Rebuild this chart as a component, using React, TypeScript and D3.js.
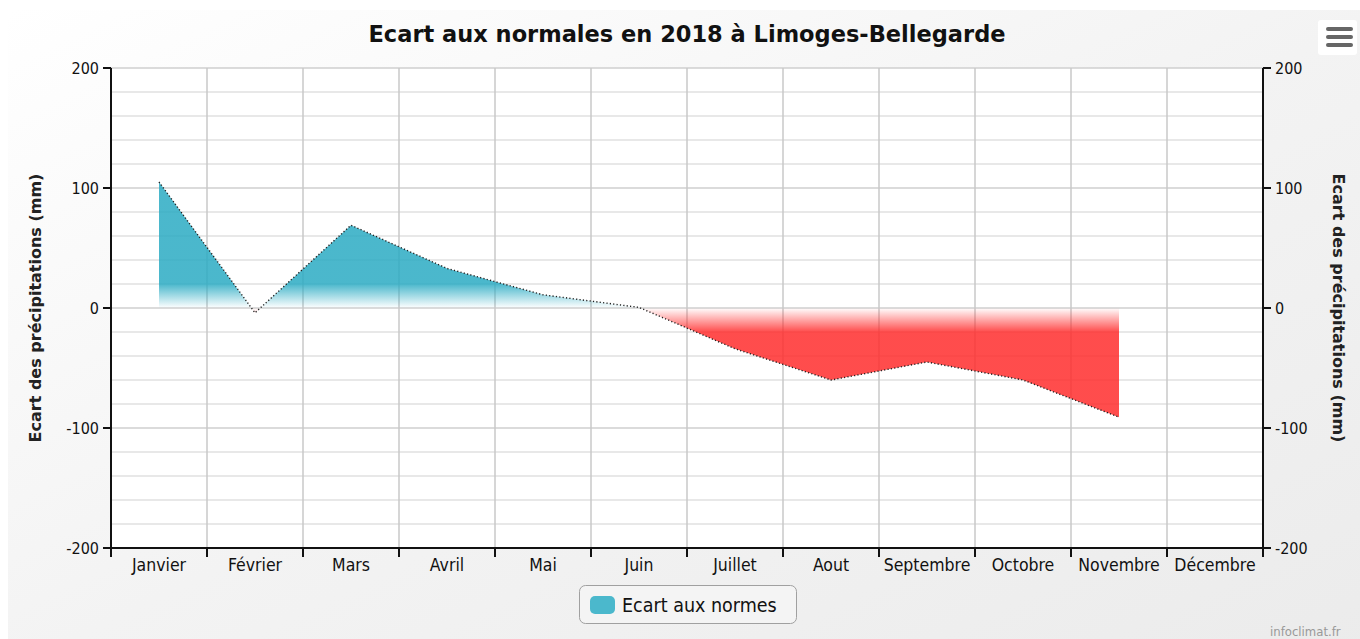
import * as d3 from 'd3';

// Écart mensuel aux normales de précipitations (mm), 2018, Limoges-Bellegarde
const months = ['Janvier', 'Février', 'Mars', 'Avril', 'Mai', 'Juin', 'Juillet', 'Aout', 'Septembre', 'Octobre', 'Novembre', 'Décembre'];
const ecart: (number | null)[] = [105, -4, 69, 33, 11, 0.5, -34, -60, -45, -60, -91, null];
const yTicks = [200, 100, 0, -100, -200];
const yGrid = d3.range(-200, 201, 20);

const W = 1360;
const H = 639;
const margin = { left: 111, right: 1263, top: 68, bottom: 548 };

const FONT = "'DejaVu Sans Condensed', 'DejaVu Sans', sans-serif";
const FONT_B = "'DejaVu Sans', sans-serif";

export default function App() {
  const x = d3.scaleBand<string>().domain(months).range([margin.left, margin.right]);
  const y = d3.scaleLinear().domain([-200, 200]).range([margin.bottom, margin.top]);
  const cx = (m: string) => (x(m) ?? 0) + x.bandwidth() / 2;

  const pts = months
    .map((m, i) => ({ m, v: ecart[i] }))
    .filter((d) => d.v !== null) as { m: string; v: number }[];

  const area = d3.area<{ m: string; v: number }>()
    .x((d) => cx(d.m))
    .y0(y(0))
    .y1((d) => y(d.v));
  const line = d3.line<{ m: string; v: number }>()
    .x((d) => cx(d.m))
    .y((d) => y(d.v));

  const y0 = y(0);
  const boundaries = months.map((m) => x(m) ?? 0).concat([margin.right]);

  return (
    <svg
      width={W}
      height={H}
      style={{ position: 'fixed', left: 0, top: 0, display: 'block' }}
    >
      <defs>
        <linearGradient id="bg" x1="0" y1="0" x2="1" y2="1">
          <stop offset="0" stopColor="#ffffff" />
          <stop offset="0.5" stopColor="#f3f3f3" />
          <stop offset="1" stopColor="#ebebeb" />
        </linearGradient>
        <linearGradient id="posFill" gradientUnits="userSpaceOnUse" x1="0" x2="0" y1={y(20)} y2={y0}>
          <stop offset="0" stopColor="rgb(43,171,195)" stopOpacity={0.85} />
          <stop offset="1" stopColor="rgb(43,171,195)" stopOpacity={0} />
        </linearGradient>
        <linearGradient id="negFill" gradientUnits="userSpaceOnUse" x1="0" x2="0" y1={y0} y2={y(-20)}>
          <stop offset="0" stopColor="rgb(255,45,45)" stopOpacity={0} />
          <stop offset="1" stopColor="rgb(255,45,45)" stopOpacity={0.85} />
        </linearGradient>
        <clipPath id="above">
          <rect x={margin.left} y={margin.top} width={margin.right - margin.left} height={y0 - margin.top} />
        </clipPath>
        <clipPath id="below">
          <rect x={margin.left} y={y0} width={margin.right - margin.left} height={margin.bottom - y0} />
        </clipPath>
      </defs>

      {/* fond */}
      <rect x={0} y={0} width={W} height={H} fill="#ffffff" />
      <rect x={8} y={10} width={W + 20} height={H + 20} rx={10} fill="url(#bg)" />

      {/* titre */}
      <text x={687} y={42} textAnchor="middle" fontFamily={FONT_B} fontWeight="bold" fontSize={22.5} fill="#111">
        Ecart aux normales en 2018 à Limoges-Bellegarde
      </text>

      {/* zone de tracé */}
      <rect x={margin.left} y={margin.top} width={margin.right - margin.left} height={margin.bottom - margin.top} fill="#ffffff" />

      {yGrid.map((v) => (
        <line key={'h' + v} x1={margin.left} x2={margin.right} y1={y(v)} y2={y(v)}
          stroke={v % 100 === 0 ? '#cfcfcf' : '#e0e0e0'} strokeWidth={1.5} />
      ))}
      {boundaries.map((bx, i) => (
        <line key={'v' + i} x1={bx} x2={bx} y1={margin.top} y2={margin.bottom} stroke="#c8c8c8" strokeWidth={1.5} />
      ))}

      {/* série */}
      <path d={area(pts) ?? ''} fill="url(#posFill)" clipPath="url(#above)" />
      <path d={area(pts) ?? ''} fill="url(#negFill)" clipPath="url(#below)" />
      <path d={line(pts) ?? ''} fill="none" stroke="#222" strokeWidth={1.4} strokeDasharray="1.2 2.2" />

      {/* axes */}
      <line x1={margin.left} x2={margin.left} y1={margin.top} y2={margin.bottom + 1} stroke="#111" strokeWidth={2} />
      <line x1={margin.right} x2={margin.right} y1={margin.top} y2={margin.bottom + 1} stroke="#111" strokeWidth={2} />
      <line x1={margin.left - 8} x2={margin.right + 8} y1={margin.bottom} y2={margin.bottom} stroke="#111" strokeWidth={2} />
      {boundaries.map((bx, i) => (
        <line key={'t' + i} x1={bx} x2={bx} y1={margin.bottom} y2={margin.bottom + 9} stroke="#111" strokeWidth={2} />
      ))}
      {yTicks.map((v) => (
        <g key={'yt' + v}>
          <line x1={margin.left - 8} x2={margin.left} y1={y(v)} y2={y(v)} stroke="#111" strokeWidth={2} />
          <line x1={margin.right} x2={margin.right + 8} y1={y(v)} y2={y(v)} stroke="#111" strokeWidth={2} />
          <text x={margin.left - 12} y={y(v) + 6} textAnchor="end" fontFamily={FONT} fontSize={16} fill="#111">{v}</text>
          <text x={margin.right + 12} y={y(v) + 6} textAnchor="start" fontFamily={FONT} fontSize={16} fill="#111">{v}</text>
        </g>
      ))}
      {months.map((m) => (
        <text key={m} x={cx(m)} y={571} textAnchor="middle" fontFamily={FONT} fontSize={17.5} fill="#111">{m}</text>
      ))}

      <text transform={`translate(41,${y0}) rotate(-90)`} textAnchor="middle" fontFamily={FONT_B} fontWeight="bold" fontSize={16} fill="#222">
        Ecart des précipitations (mm)
      </text>
      <text transform={`translate(1333,${y0}) rotate(90)`} textAnchor="middle" fontFamily={FONT_B} fontWeight="bold" fontSize={16} fill="#222">
        Ecart des précipitations (mm)
      </text>

      {/* légende */}
      <rect x={579.5} y={585.5} width={217} height={38} rx={6} fill="#f4f4f4" stroke="#a0a0a0" strokeWidth={1} />
      <rect x={590} y={596} width={25} height={18} rx={5} fill="#4bb8cc" />
      <text x={622} y={612} fontFamily={FONT} fontSize={19.5} fill="#111">Ecart aux normes</text>

      {/* menu */}
      <rect x={1318} y={20} width={39} height={35} rx={3} fill="#ffffff" />
      {[29, 37, 45].map((by) => (
        <line key={by} x1={1328} x2={1351} y1={by} y2={by} stroke="#666" strokeWidth={4} strokeLinecap="round" />
      ))}

      {/* crédits */}
      <text x={1270} y={636} fontFamily={FONT} fontSize={13} fill="#999">infoclimat.fr</text>
    </svg>
  );
}
